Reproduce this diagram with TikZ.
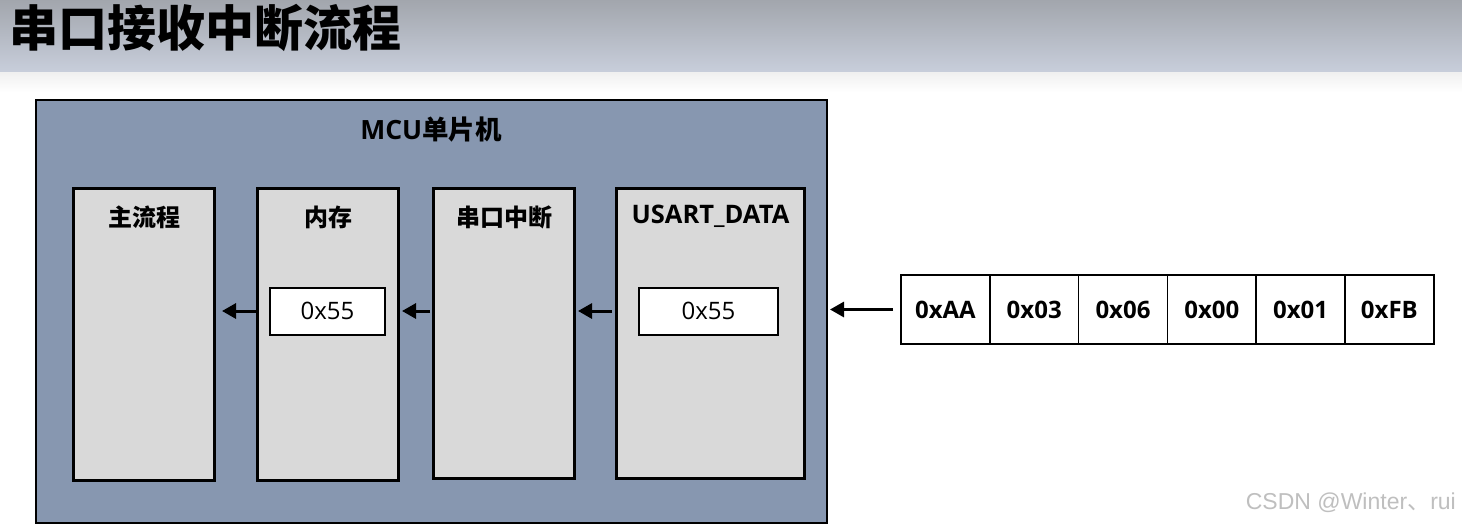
\documentclass[tikz,border=0pt]{standalone}
\usepackage{fontspec}
\setmainfont{Open Sans}
\newfontfamily\cjk{Noto Sans CJK SC}
\newfontfamily\wmfont{Liberation Sans}
\usetikzlibrary{arrows.meta,calc}
\definecolor{mcublue}{HTML}{8797B0}
\definecolor{boxgray}{HTML}{D9D9D9}
\definecolor{hdrtop}{HTML}{A2A6AD}
\definecolor{hdrbot}{HTML}{C8CEDB}
\tikzset{
  mcubox/.style={draw=black,line width=2pt,fill=mcublue,inner sep=0pt,anchor=north west},
  unitbox/.style={draw=black,line width=3pt,fill=boxgray,inner sep=0pt,anchor=north west,minimum height=292pt},
  valbox/.style={draw=black,line width=2pt,fill=white,inner sep=0pt,minimum height=47pt,font=\fontsize{24}{28}\selectfont},
  bytebox/.style={draw=black,line width=1.6pt,fill=white,inner sep=0pt,outer sep=0pt,minimum width=88.8pt,minimum height=69pt,anchor=west,font=\fontsize{24}{28}\selectfont\bfseries},
  lbl/.style={inner sep=0pt,font=\fontsize{25.5}{28}\selectfont\bfseries},
  cjklbl/.style={inner sep=0pt,font=\fontsize{24}{28}\selectfont\cjk\bfseries},
  flow/.style={line width=3pt,-{Triangle[length=14pt,width=15pt]}}
}
\begin{document}
\begin{tikzpicture}[x=1pt,y=-1pt]
\useasboundingbox (0,0) rectangle (1462,528);
\fill[white] (0,0) rectangle (1462,528);
% header band
\shade[top color=hdrtop,bottom color=hdrbot] (0,0) rectangle (1462,72);
\shade[top color=black!6,bottom color=white] (0,72) rectangle (1462,92);
\node[anchor=west,inner sep=0pt,font=\fontsize{49}{54}\selectfont\cjk\bfseries] (title) at (9,28) {串口接收中断流程};
% MCU
\node[mcubox,minimum width=791pt,minimum height=423pt] (mcu) at (35,99) {};
\node[inner sep=0pt,font=\fontsize{26.5}{30}\selectfont\bfseries] (mcul) at (431,130) {MCU{\cjk 单片机}};
% units
\node[unitbox,minimum width=141pt] (zhu) at (72,187) {};
\node[unitbox,minimum width=141pt] (nc) at (256,187) {};
\node[unitbox,minimum width=141pt,minimum height=290pt] (isr) at (432,187) {};
\node[unitbox,minimum width=188pt,minimum height=290pt] (usart) at (615,187) {};
\node[cjklbl] (zhul) at ($(zhu.north)+(0,30)$) {主流程};
\node[cjklbl] (ncl) at ($(nc.north)+(0,30)$) {内存};
\node[cjklbl] (isrl) at ($(isr.north)+(0,30)$) {串口中断};
\node[lbl] (usartl) at ($(usart.north)+(0,29)$) {USART\_DATA};
% value boxes
\node[valbox,minimum width=115pt] (v1) at (327.5,311) {0x55};
\node[valbox,minimum width=139pt] (v2) at (708.5,311) {0x55};
% byte strip
\node[bytebox] (b1) at (901,309.5) {0xAA};
\node[bytebox] (b2) at (b1.east) {0x03};
\node[bytebox] (b3) at (b2.east) {0x06};
\node[bytebox] (b4) at (b3.east) {0x00};
\node[bytebox] (b5) at (b4.east) {0x01};
\node[bytebox] (b6) at (b5.east) {0xFB};
% arrows
\draw[flow,shorten >=6pt] (nc.west |- v1) -- (zhu.east |- v1);
\draw[flow,shorten <=2pt,shorten >=2pt] (isr.west |- v1) -- (nc.east |- v1);
\draw[flow,shorten <=3pt,shorten >=2pt] (usart.west |- v2) -- (isr.east |- v2);
\draw[flow,shorten <=8pt,shorten >=2pt] (b1.west) -- (mcu.east |- b1);
% watermark
\node[anchor=east,inner sep=0pt,text=black!25,font=\fontsize{23}{26}\selectfont\wmfont] (wm) at (1456,503) {CSDN @Winter{\cjk 、}rui};
\end{tikzpicture}
\end{document}
